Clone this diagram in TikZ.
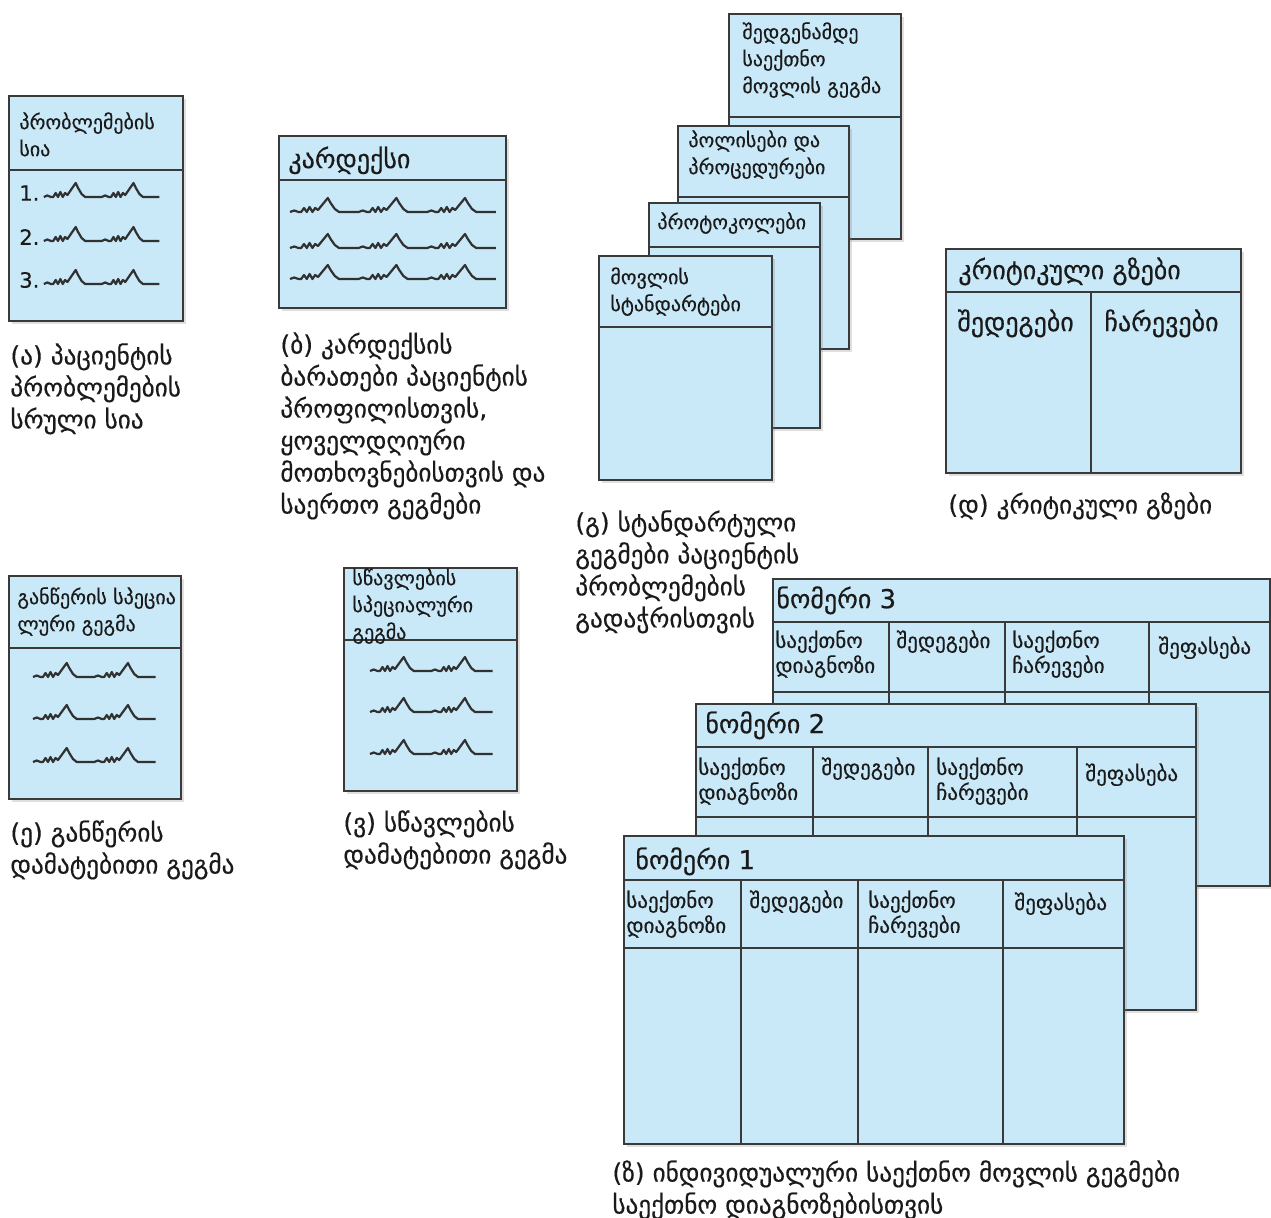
\documentclass[tikz,border=0pt]{standalone}
\usepackage{fontspec}
\newfontfamily\geo[FakeBold=0.4]{DejaVu Sans}
\usetikzlibrary{calc}
\usetikzlibrary{shadows}

\definecolor{cardfill}{HTML}{C9E8F8}
\definecolor{cardedge}{HTML}{3A3A3A}
\definecolor{ink}{HTML}{1A1A1A}

\begin{document}
\begin{tikzpicture}
        [
            x=0.5pt, y=-0.5pt,
            card/.style 2 args={rectangle, draw=cardedge, fill=cardfill, line width=1.2pt, minimum width=#1*0.5pt, minimum height=#2*0.5pt, anchor=north west, inner sep=0pt, drop shadow={shadow xshift=1.5pt, shadow yshift=-1.5pt, opacity=0.25}},
            rule/.style={draw=cardedge, line width=1.2pt},
            smallhead/.style={anchor=north west, align=left, inner sep=0pt, text=ink, font=\geo\fontsize{10}{13.5}\selectfont},
            bighead/.style={smallhead, font=\geo\fontsize{13}{15}\selectfont},
            colhead/.style={smallhead, font=\geo\fontsize{10.5}{12.5}\selectfont},
            caption/.style={smallhead, font=\geo\fontsize{12.6}{16}\selectfont},
            numlbl/.style={anchor=west, inner sep=0pt, text=ink, font=\geo\fontsize{10.5}{13}\selectfont},
            wave/.style={draw=ink!90, line width=1.1pt, line join=round},
            pics/ecg/.style={code={\draw[wave] (0,0) \foreach \k in {1,...,#1}{ -- ++(3,-1.5) -- ++(3,1.5) -- ++(2,0) -- ++(2,-4) -- ++(2,4) -- ++(2,-5) -- ++(2,5) -- ++(2,-4) -- ++(2,2) -- ++(7,-12) -- ++(2,5) -- ++(3,6) -- ++(3,3) -- ++(14,0)};}}
        ]
        \useasboundingbox (0,0) rectangle (1271,1218);
        %(a) problem list
        \node[card={174}{225}] at (8,95)            (problist)      {};
        \draw[rule] ($(problist.north west)+(0,75)$) -- ($(problist.north east)+(0,75)$);
        \node[smallhead] at (19,112)                (problist_t)    {პრობლემების\\სია};
        \node[numlbl] at (19,193)                   (problist_1)    {1.};
        \node[numlbl] at (19,237)                   (problist_2)    {2.};
        \node[numlbl] at (19,280)                   (problist_3)    {3.};
        \pic[xscale=1.18] at ($(problist_1.east)+(4,4)$) {ecg=2};
        \pic[xscale=1.18] at ($(problist_2.east)+(4,4)$) {ecg=2};
        \pic[xscale=1.18] at ($(problist_3.east)+(4,4)$) {ecg=2};
        \node[caption] at (10,343)                  (problist_c)    {(ა) პაციენტის\\პრობლემების\\სრული სია};
        %(b) kardex
        \node[card={227}{172}] at (278,135)         (kardex)        {};
        \draw[rule] ($(kardex.north west)+(0,45)$) -- ($(kardex.north east)+(0,45)$);
        \node[bighead] at (288,146)                 (kardex_t)      {კარდექსი};
        \pic[xscale=1.4] at (290,212) {ecg=3};
        \pic[xscale=1.4] at (290,248) {ecg=3};
        \pic[xscale=1.4] at (290,279) {ecg=3};
        \node[caption] at (280,332)                 (kardex_c)      {(ბ) კარდექსის\\ბარათები პაციენტის\\პროფილისთვის,\\ყოველდღიური\\მოთხოვნებისთვის და\\საერთო გეგმები};
        %(c) standard plans, back to front
        \node[card={172}{225}] at (728,13)          (preplan)       {};
        \draw[rule] ($(preplan.north west)+(0,104)$) -- ($(preplan.north east)+(0,104)$);
        \node[smallhead] at (742,22)                (preplan_t)     {შედგენამდე\\საექთნო\\მოვლის გეგმა};
        \node[card={171}{223}] at (677,125)         (policies)      {};
        \draw[rule] ($(policies.north west)+(0,72)$) -- ($(policies.north east)+(0,72)$);
        \node[smallhead] at (688,130)               (policies_t)    {პოლისები და\\პროცედურები};
        \node[card={171}{225}] at (648,202)         (protocols)     {};
        \draw[rule] ($(protocols.north west)+(0,45)$) -- ($(protocols.north east)+(0,45)$);
        \node[smallhead] at (657,212)               (protocols_t)   {პროტოკოლები};
        \node[card={173}{224}] at (598,255)         (standards)     {};
        \draw[rule] ($(standards.north west)+(0,72)$) -- ($(standards.north east)+(0,72)$);
        \node[smallhead] at (610,267)               (standards_t)   {მოვლის\\სტანდარტები};
        \node[caption] at (575,510)                 (standards_c)   {(გ) სტანდარტული\\გეგმები პაციენტის\\პრობლემების\\გადაჭრისთვის};
        %(d) critical pathways
        \node[card={295}{224}] at (945,248)         (critpath)      {};
        \draw[rule] ($(critpath.north west)+(0,44)$) -- ($(critpath.north east)+(0,44)$);
        \draw[rule] ($(critpath.north west)+(146,44)$) -- ($(critpath.south west)+(146,0)$);
        \node[bighead] at (958,257)                 (critpath_t)    {კრიტიკული გზები};
        \node[bighead] at (957,309)                 (critpath_o)    {შედეგები};
        \node[bighead] at (1104,309)                (critpath_i)    {ჩარევები};
        \node[caption] at (948,492)                 (critpath_c)    {(დ) კრიტიკული გზები};
        %(e) discharge plan
        \node[card={172}{223}] at (8,575)           (discharge)     {};
        \draw[rule] ($(discharge.north west)+(0,73)$) -- ($(discharge.north east)+(0,73)$);
        \node[smallhead] at (17,587)                (discharge_t)   {განწერის სპეცია\\ლური გეგმა};
        \pic[xscale=1.25] at (33,677) {ecg=2};
        \pic[xscale=1.25] at (33,719) {ecg=2};
        \pic[xscale=1.25] at (33,762) {ecg=2};
        \node[caption] at (10,820)                  (discharge_c)   {(ე) განწერის\\დამატებითი გეგმა};
        %(v) teaching plan
        \node[card={173}{223}] at (343,567)         (teaching)      {};
        \draw[rule] ($(teaching.north west)+(0,73)$) -- ($(teaching.north east)+(0,73)$);
        \node[smallhead] at (352,568)               (teaching_t)    {სწავლების\\სპეციალური\\გეგმა};
        \pic[xscale=1.25] at (370,671) {ecg=2};
        \pic[xscale=1.25] at (370,712) {ecg=2};
        \pic[xscale=1.25] at (370,754) {ecg=2};
        \node[caption] at (343,810)                 (teaching_c)    {(ვ) სწავლების\\დამატებითი გეგმა};
        %(z) individual care plans, back to front
        \node[card={497}{307}] at (772,578)         (plan3)         {};
        \draw[rule] ($(plan3.north west)+(0,44)$) -- ($(plan3.north east)+(0,44)$);
        \draw[rule] ($(plan3.north west)+(0,114)$) -- ($(plan3.north east)+(0,114)$);
        \draw[rule] ($(plan3.north west)+(117,44)$) -- ($(plan3.south west)+(117,0)$)
                    ($(plan3.north west)+(233,44)$) -- ($(plan3.south west)+(233,0)$)
                    ($(plan3.north west)+(377,44)$) -- ($(plan3.south west)+(377,0)$);
        \node[bighead] at ($(plan3.north west)+(4,8)$)      (plan3_t)   {ნომერი 3};
        \node[colhead] at ($(plan3.north west)+(3,52)$)     (plan3_dx)  {საექთნო\\დიაგნოზი};
        \node[colhead] at ($(plan3.north west)+(124,52)$)   (plan3_o)   {შედეგები};
        \node[colhead] at ($(plan3.north west)+(240,52)$)   (plan3_i)   {საექთნო\\ჩარევები};
        \node[colhead] at ($(plan3.north west)+(386,58)$)   (plan3_e)   {შეფასება};
        \node[card={500}{306}] at (695,703)         (plan2)         {};
        \draw[rule] ($(plan2.north west)+(0,44)$) -- ($(plan2.north east)+(0,44)$);
        \draw[rule] ($(plan2.north west)+(0,114)$) -- ($(plan2.north east)+(0,114)$);
        \draw[rule] ($(plan2.north west)+(118,44)$) -- ($(plan2.south west)+(118,0)$)
                    ($(plan2.north west)+(233,44)$) -- ($(plan2.south west)+(233,0)$)
                    ($(plan2.north west)+(382,44)$) -- ($(plan2.south west)+(382,0)$);
        \node[bighead] at ($(plan2.north west)+(10,8)$)     (plan2_t)   {ნომერი 2};
        \node[colhead] at ($(plan2.north west)+(3,54)$)     (plan2_dx)  {საექთნო\\დიაგნოზი};
        \node[colhead] at ($(plan2.north west)+(126,54)$)   (plan2_o)   {შედეგები};
        \node[colhead] at ($(plan2.north west)+(241,54)$)   (plan2_i)   {საექთნო\\ჩარევები};
        \node[colhead] at ($(plan2.north west)+(390,60)$)   (plan2_e)   {შეფასება};
        \node[card={500}{308}] at (623,835)         (plan1)         {};
        \draw[rule] ($(plan1.north west)+(0,45)$) -- ($(plan1.north east)+(0,45)$);
        \draw[rule] ($(plan1.north west)+(0,113)$) -- ($(plan1.north east)+(0,113)$);
        \draw[rule] ($(plan1.north west)+(118,45)$) -- ($(plan1.south west)+(118,0)$)
                    ($(plan1.north west)+(235,45)$) -- ($(plan1.south west)+(235,0)$)
                    ($(plan1.north west)+(380,45)$) -- ($(plan1.south west)+(380,0)$);
        \node[bighead] at ($(plan1.north west)+(12,12)$)    (plan1_t)   {ნომერი 1};
        \node[colhead] at ($(plan1.north west)+(3,55)$)     (plan1_dx)  {საექთნო\\დიაგნოზი};
        \node[colhead] at ($(plan1.north west)+(126,55)$)   (plan1_o)   {შედეგები};
        \node[colhead] at ($(plan1.north west)+(245,55)$)   (plan1_i)   {საექთნო\\ჩარევები};
        \node[colhead] at ($(plan1.north west)+(391,57)$)   (plan1_e)   {შეფასება};
        \node[caption] at (612,1160)                (plan1_c)       {(ზ) ინდივიდუალური საექთნო მოვლის გეგმები\\საექთნო დიაგნოზებისთვის};
    \end{tikzpicture}
\end{document}
